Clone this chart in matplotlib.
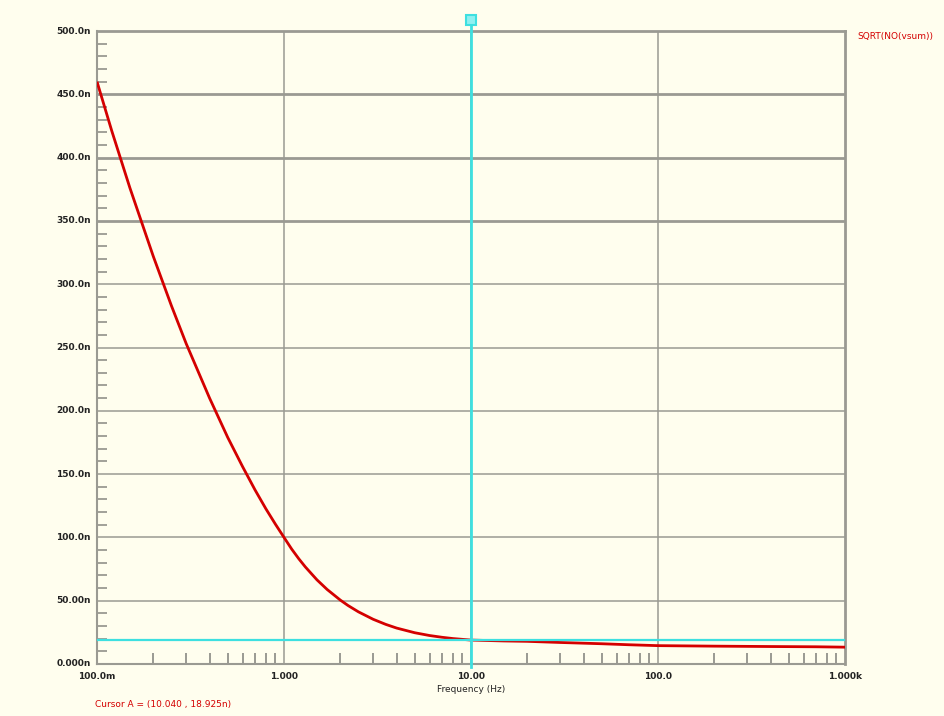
import matplotlib
matplotlib.use("Agg")
import matplotlib.pyplot as plt
from matplotlib.ticker import FixedLocator, NullFormatter

# ---- data ----
freq_hz = [0.1, 0.12, 0.15, 0.2, 0.25, 0.3, 0.4, 0.5, 0.6, 0.7, 0.8, 0.9,
           1.0, 1.1, 1.2, 1.3, 1.5, 1.7, 2.0, 2.2, 2.5, 3.0, 3.5, 4.0, 5.0,
           6.0, 7.0, 8.0, 10.0, 15.0, 20.0, 30.0, 50.0, 70.0, 100.0, 200.0,
           400.0, 700.0, 1000.0]
noise_n = [460, 421, 376, 322, 283, 253, 210, 179, 156, 137.5, 122.6, 110.4,
           100, 90.7, 83.1, 76.7, 66.5, 58.9, 50.5, 46.2, 41.2, 35.3, 31.3, 28.4, 24.7,
           22.5, 21.1, 20.1, 18.9, 18.2, 17.9, 17.0, 16.0, 15.2, 14.5, 14.1,
           13.8, 13.6, 13.3]

y_major = [0, 50, 100, 150, 200, 250, 300, 350, 400, 450, 500]
y_labels = ["0.000n", "50.00n", "100.0n", "150.0n", "200.0n", "250.0n",
            "300.0n", "350.0n", "400.0n", "450.0n", "500.0n"]
x_major = [0.1, 1.0, 10.0, 100.0, 1000.0]
x_labels = ["100.0m", "1.000", "10.00", "100.0", "1.000k"]

cursor_x = 10.0
cursor_y = 18.925
trace_name = "SQRT(NO(vsum))"
cursor_text = "Cursor A = (10.040 , 18.925n)"
x_title = "Frequency (Hz)"

# ---- style ----
bg = "#fffeee"
grid_c = "#9a9a92"
red = "#d40000"
cyan = "#3ee0e0"

fig = plt.figure(figsize=(9.45, 7.16), dpi=100, facecolor=bg)
ax = fig.add_axes([97/945, 1-664/716, (845-97)/945, (664-31)/716])
ax.set_facecolor(bg)
ax.set_xscale("log")
ax.set_xlim(0.1, 1000)
ax.set_ylim(0, 500)

# grid
for yv in y_major[1:-1]:
    ax.axhline(yv, color=grid_c, lw=2.0 if yv >= 350 else 1.1, zorder=1)
for xv in x_major[1:-1]:
    ax.axvline(xv, color=grid_c, lw=1.1, zorder=1)

for name, s in ax.spines.items():
    s.set_color(grid_c)
    s.set_linewidth(2.0 if name in ("top", "right") else 1.5)

# ticks
ax.xaxis.set_major_locator(FixedLocator(x_major))
ax.xaxis.set_major_formatter(NullFormatter())
ax.xaxis.set_minor_locator(FixedLocator([m * 10.0**d for d in range(-1, 3) for m in range(2, 10)]))
ax.xaxis.set_minor_formatter(NullFormatter())
ax.yaxis.set_major_locator(FixedLocator(y_major))
ax.yaxis.set_major_formatter(NullFormatter())
ax.yaxis.set_minor_locator(FixedLocator([v for v in range(0, 501, 10) if v % 50]))
ax.tick_params(axis="x", which="minor", direction="in", length=8, width=1.4, color=grid_c)
ax.tick_params(axis="x", which="major", length=0)
ax.tick_params(axis="y", which="minor", direction="in", length=7, width=1.3, color=grid_c)
ax.tick_params(axis="y", which="major", length=0)

# labels as text
for yv, lab in zip(y_major, y_labels):
    ax.text(-0.008, yv, lab, transform=ax.get_yaxis_transform(), ha="right", va="center",
            fontsize=6.5, color="#222222", fontweight="bold")
for xv, lab in zip(x_major, x_labels):
    ax.text(xv, -0.012, lab, transform=ax.get_xaxis_transform(), ha="center", va="top",
            fontsize=6.5, color="#222222", fontweight="bold")
ax.text(0.5, -0.033, x_title, transform=ax.transAxes, ha="center", va="top",
        fontsize=6.5, color="#222222")
fig.text(95/945, 1-705/716, cursor_text, ha="left", va="center", fontsize=6.5, color=red)
fig.text(857/945, 1-37/716, trace_name, ha="left", va="center", fontsize=6.5, color=red)

# curve
ax.plot(freq_hz, noise_n, color=red, lw=2.0, zorder=3, solid_capstyle="butt")

# cursor lines
ax.axhline(cursor_y, color=cyan, lw=1.6, zorder=4)
ax.plot([cursor_x, cursor_x], [-2, 505], color=cyan, lw=2.0, zorder=4, clip_on=False)
ax.plot([cursor_x], [508.5], marker="s", ms=7, mfc="#8ff0f0", mec=cyan, mew=1.5,
        clip_on=False, zorder=5)

fig.savefig("out.png", dpi=100, facecolor=bg)
